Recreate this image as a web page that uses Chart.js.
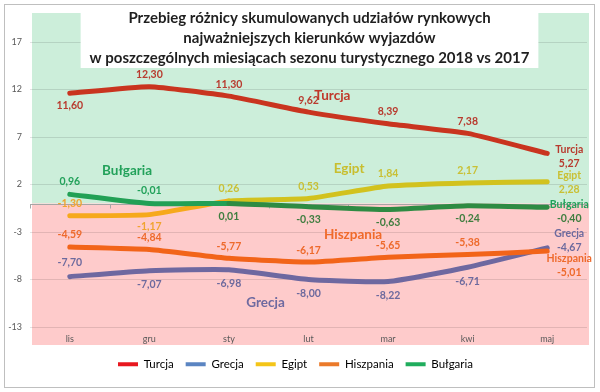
<!DOCTYPE html>
<html>
<head>
<meta charset="utf-8">
<script src="https://cdn.jsdelivr.net/npm/chart.js@4.4.0/dist/chart.umd.min.js"></script>
<style>
  html, body { margin: 0; padding: 0; background: #fff; }
  #wrap { width: 600px; height: 392px; }
</style>
</head>
<body>
<div id="wrap"><canvas id="chart" width="600" height="392"></canvas></div>
<script>
// data
var months = ['lis', 'gru', 'sty', 'lut', 'mar', 'kwi', 'maj'];
var seriesNames = ['Turcja', 'Grecja', 'Egipt', 'Hiszpania', 'Bułgaria'];
var turcja = [11.60, 12.30, 11.30, 9.62, 8.39, 7.38, 5.27];
var grecja = [-7.70, -7.07, -6.98, -8.00, -8.22, -6.71, -4.67];
var egipt = [-1.30, -1.17, 0.26, 0.53, 1.84, 2.17, 2.28];
var hiszpania = [-4.59, -4.84, -5.77, -6.17, -5.65, -5.38, -5.01];
var bulgaria = [0.96, -0.01, 0.01, -0.33, -0.63, -0.24, -0.40];
var yTicks = [-13, -8, -3, 2, 7, 12, 17];
var titleLines = [
    'Przebieg różnicy skumulowanych udziałów rynkowych',
    'najważniejszych kierunków wyjazdów',
    'w poszczególnych miesiącach sezonu turystycznego 2018 vs 2017'
];

var FONT = 'Lato, "Open Sans", sans-serif';

// look of each series: line colours, legend swatch, label colours,
// which side the value labels go (-1 above, 1 below), end label shift, name label spot
var seriesStyle = [
    {line: '#C9341F', lineNeg: '#C9341F', legend: '#E8171F', lab: '#B83A2E', labNeg: '#B83A2E', name: '#C0392B',
        side: [1, -1, -1, -1, -1, -1], off: 12, endDy: 3, namePos: [3.3, 11.4]},
    {line: '#6E68A0', lineNeg: '#6E68A0', legend: '#5B85C2', lab: '#6D6A9E', labNeg: '#6D6A9E', name: '#6E6AA0',
        side: [-1, 1, 1, 1, 1, 1], off: 14, endDy: -7, namePos: [2.46, -10.4]},
    {line: '#D2C21E', lineNeg: '#F6A91C', legend: '#F4C518', lab: '#C9C035', labNeg: '#F0A430', name: '#C8BE2E',
        side: [-1, 1, -1, -1, -1, -1], off: 12, endDy: 1, namePos: [3.51, 3.69]},
    {line: '#F26419', lineNeg: '#F26419', legend: '#EB7A2A', lab: '#EE6A2C', labNeg: '#EE6A2C', name: '#F06A2A',
        side: [-1, -1, -1, -1, -1, -1], off: 12, endDy: 15, namePos: [3.56, -3.33]},
    {line: '#22A055', lineNeg: '#2E8B43', legend: '#20AD5D', lab: '#22A15A', labNeg: '#3F7D3F', name: '#22A15A',
        side: [-1, -1, 1, 1, 1, 1], off: 13, endDy: 4, namePos: [0.72, 3.44]}
];

function fmt(v) {
    return v.toFixed(2).replace('.', ',');
}

var allSeries = [turcja, grecja, egipt, hiszpania, bulgaria];

var datasets = allSeries.map(function(values, i) {
    var st = seriesStyle[i];
    return {
        label: seriesNames[i],
        data: values,
        borderColor: st.line,
        borderWidth: 5,
        pointRadius: 0,
        pointHoverRadius: 0,
        tension: 0.15,
        fill: false,
        borderCapStyle: 'round',
        borderJoinStyle: 'round',
        order: -i,
        segment: {
            borderColor: function(ctx) {
                return (ctx.p0.parsed.y + ctx.p1.parsed.y) / 2 < 0 ? st.lineNeg : st.line;
            }
        }
    };
});

var backdrop = {
    id: 'backdrop',
    beforeDraw: function(chart) {
        var ctx = chart.ctx, ca = chart.chartArea;
        var zeroY = chart.scales.y.getPixelForValue(0);
        ctx.save();
        ctx.fillStyle = '#fff';
        ctx.fillRect(0, 0, chart.width, chart.height);
        ctx.strokeStyle = '#BFBFBF';
        ctx.lineWidth = 1;
        ctx.strokeRect(4.5, 4.5, chart.width - 10, chart.height - 9);
        ctx.fillStyle = '#CCEEDA';
        ctx.fillRect(ca.left + 2, ca.top - 29, ca.right - ca.left, zeroY - (ca.top - 29));
        ctx.fillStyle = '#FECBCB';
        ctx.fillRect(ca.left + 2, zeroY, ca.right - ca.left, ca.bottom + 18 - zeroY);
        ctx.restore();
    },
    beforeDatasetsDraw: function(chart) {
        var ctx = chart.ctx, ca = chart.chartArea;
        var zeroY = Math.round(chart.scales.y.getPixelForValue(0)) + 0.5;
        ctx.save();
        // category axis crossing at zero
        ctx.strokeStyle = '#A6A6A6';
        ctx.lineWidth = 1;
        ctx.beginPath();
        ctx.moveTo(ca.left, zeroY);
        ctx.lineTo(ca.right, zeroY);
        var step = (ca.right - ca.left) / months.length;
        for (var i = 0; i <= months.length; i++) {
            var x = Math.round(ca.left + i * step) + 0.5;
            ctx.moveTo(x, zeroY);
            ctx.lineTo(x, zeroY + 4);
        }
        ctx.stroke();

        // title on its white box
        var cx = (ca.left + ca.right) / 2 + 1;
        ctx.font = 'bold 15px ' + FONT;
        var w = 0;
        titleLines.forEach(function(t) { w = Math.max(w, ctx.measureText(t).width); });
        ctx.fillStyle = '#fff';
        ctx.fillRect(cx - w / 2 - 9, ca.top - 29, w + 18, 55);
        ctx.fillStyle = '#1F1F1F';
        ctx.textAlign = 'center';
        ctx.textBaseline = 'middle';
        titleLines.forEach(function(t, k) {
            ctx.fillText(t, cx, 18 + k * 20);
        });
        ctx.restore();
    },
    afterDatasetsDraw: function(chart) {
        var ctx = chart.ctx;
        var xs = chart.scales.x, ys = chart.scales.y;
        var zeroY = ys.getPixelForValue(0);
        ctx.save();
        ctx.textAlign = 'center';
        ctx.textBaseline = 'middle';
        chart.data.datasets.forEach(function(ds, i) {
            var st = seriesStyle[i];
            var meta = chart.getDatasetMeta(i);
            ctx.font = 'bold 10.5px ' + FONT;
            meta.data.forEach(function(pt, j) {
                var v = ds.data[j];
                if (j === ds.data.length - 1) {
                    var cy = pt.y + st.endDy;
                    ctx.fillStyle = st.lab;
                    ctx.fillText(ds.label, pt.x + 22, cy - 7);
                    ctx.fillStyle = (cy + 7 > zeroY - 4) ? st.labNeg : st.lab;
                    ctx.fillText(fmt(v), pt.x + 22, cy + 7);
                    return;
                }
                var ly = pt.y + st.side[j] * st.off;
                ctx.fillStyle = (ly > zeroY - 4) ? st.labNeg : st.lab;
                ctx.fillText(fmt(v), pt.x, ly);
            });
            // series name inside the plot
            ctx.font = 'bold 13.5px ' + FONT;
            ctx.fillStyle = st.name;
            var nx = xs.getPixelForValue(0) + st.namePos[0] * (xs.getPixelForValue(1) - xs.getPixelForValue(0));
            ctx.fillText(ds.label, nx, ys.getPixelForValue(st.namePos[1]));
        });
        ctx.restore();
    }
};

var ctx = document.getElementById('chart').getContext('2d');
var chart = new Chart(ctx, {
    type: 'line',
    data: {
        labels: months,
        datasets: datasets
    },
    options: {
        responsive: false,
        animation: false,
        events: [],
        layout: {
            padding: {left: 4, right: 13, top: 42, bottom: 12}
        },
        scales: {
            x: {
                offset: true,
                grid: {display: false, drawTicks: false},
                border: {display: false},
                ticks: {color: '#595959', font: {family: FONT, size: 9}, padding: 7, maxRotation: 0},
                afterFit: function(s) { s.height = 19.5; }
            },
            y: {
                min: -13,
                max: 17,
                afterBuildTicks: function(s) {
                    s.ticks = yTicks.map(function(v) { return {value: v}; });
                },
                grid: {color: 'rgba(0,0,0,0.11)', drawTicks: false},
                border: {display: false},
                ticks: {
                    color: '#595959',
                    font: {family: FONT, size: 9},
                    padding: 8,
                    callback: function(v) { return String(v); }
                },
                afterFit: function(s) { s.width = 26; }
            }
        },
        plugins: {
            title: {display: false},
            tooltip: {enabled: false},
            legend: {
                position: 'bottom',
                labels: {
                    boxWidth: 20,
                    boxHeight: 4,
                    padding: 12,
                    color: '#404040',
                    font: {family: FONT, size: 11.5},
                    generateLabels: function(chart) {
                        return chart.data.datasets.map(function(ds, i) {
                            return {
                                text: ds.label,
                                fillStyle: seriesStyle[i].legend,
                                strokeStyle: seriesStyle[i].legend,
                                lineWidth: 0,
                                hidden: false,
                                datasetIndex: i
                            };
                        });
                    }
                }
            }
        }
    },
    plugins: [backdrop]
});
</script>
</body>
</html>
